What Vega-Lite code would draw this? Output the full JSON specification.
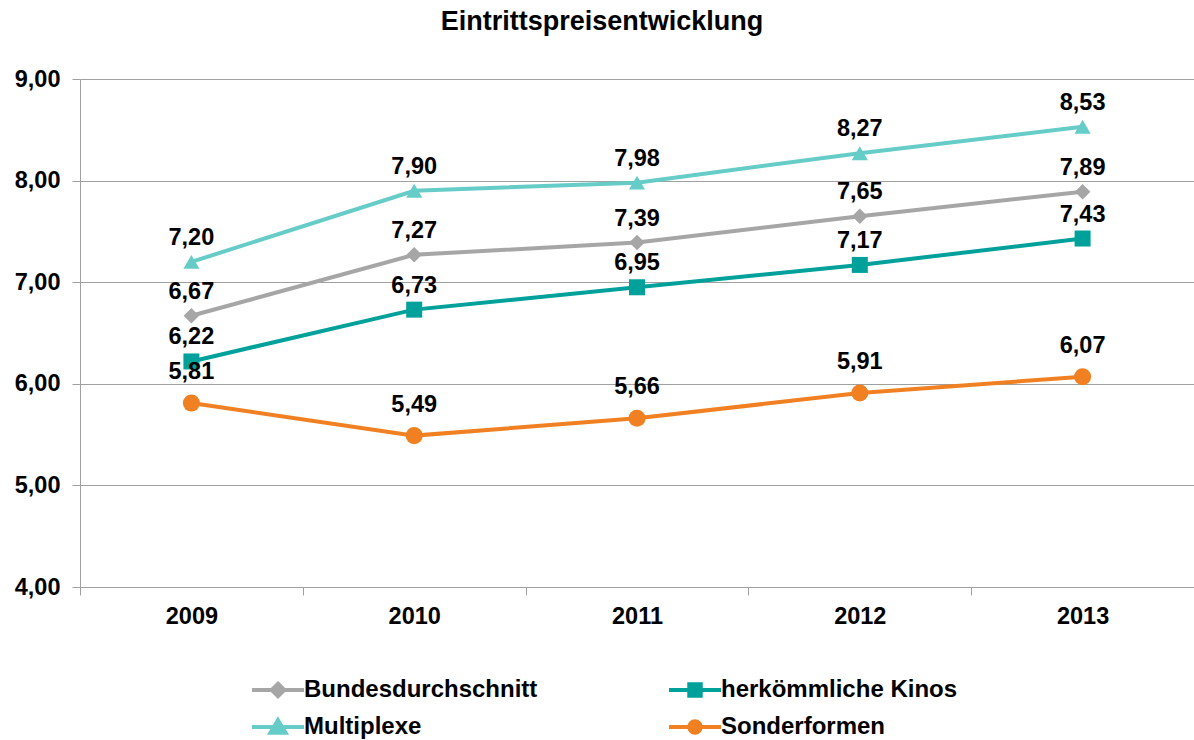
{
  "$schema": "https://vega.github.io/schema/vega-lite/v6.json",
  "width": 1114,
  "height": 508,
  "autosize": {"type": "none"},
  "padding": {"left": 80, "top": 79, "right": 0, "bottom": 153},
  "background": "white",
  "title": {"text": "Eintrittspreisentwicklung", "font": "Liberation Sans", "fontSize": 27, "fontWeight": "bold", "color": "black", "anchor": "middle", "dx": -35, "offset": 31},
  "config": {
    "locale": {"number": {"decimal": ",", "thousands": ".", "grouping": [3], "currency": ["", " €"]}},
    "view": {"stroke": null},
    "font": "Liberation Sans"
  },
  "data": {"values": [
    {"Jahr": "2009", "Serie": "Bundesdurchschnitt", "Preis": 6.67},
    {"Jahr": "2010", "Serie": "Bundesdurchschnitt", "Preis": 7.27},
    {"Jahr": "2011", "Serie": "Bundesdurchschnitt", "Preis": 7.39},
    {"Jahr": "2012", "Serie": "Bundesdurchschnitt", "Preis": 7.65},
    {"Jahr": "2013", "Serie": "Bundesdurchschnitt", "Preis": 7.89},
    {"Jahr": "2009", "Serie": "herkömmliche Kinos", "Preis": 6.22},
    {"Jahr": "2010", "Serie": "herkömmliche Kinos", "Preis": 6.73},
    {"Jahr": "2011", "Serie": "herkömmliche Kinos", "Preis": 6.95},
    {"Jahr": "2012", "Serie": "herkömmliche Kinos", "Preis": 7.17},
    {"Jahr": "2013", "Serie": "herkömmliche Kinos", "Preis": 7.43},
    {"Jahr": "2009", "Serie": "Multiplexe", "Preis": 7.20},
    {"Jahr": "2010", "Serie": "Multiplexe", "Preis": 7.90},
    {"Jahr": "2011", "Serie": "Multiplexe", "Preis": 7.98},
    {"Jahr": "2012", "Serie": "Multiplexe", "Preis": 8.27},
    {"Jahr": "2013", "Serie": "Multiplexe", "Preis": 8.53},
    {"Jahr": "2009", "Serie": "Sonderformen", "Preis": 5.81},
    {"Jahr": "2010", "Serie": "Sonderformen", "Preis": 5.49},
    {"Jahr": "2011", "Serie": "Sonderformen", "Preis": 5.66},
    {"Jahr": "2012", "Serie": "Sonderformen", "Preis": 5.91},
    {"Jahr": "2013", "Serie": "Sonderformen", "Preis": 6.07}
  ]},
  "encoding": {
    "x": {
      "field": "Jahr", "type": "nominal",
      "scale": {"type": "band", "paddingInner": 0, "paddingOuter": 0},
      "axis": {"title": null, "labelAngle": 0, "tickBand": "extent", "tickSize": 8, "tickColor": "#A0A0A0", "domainColor": "#A0A0A0", "labelPadding": 9, "labelFont": "Liberation Sans", "labelFontSize": 23.5, "labelFontWeight": "bold", "labelColor": "black", "grid": false}
    },
    "y": {
      "field": "Preis", "type": "quantitative",
      "scale": {"domain": [4, 9], "nice": false, "zero": false},
      "axis": {"title": null, "values": [4, 5, 6, 7, 8, 9], "format": ".2f", "labelFont": "Liberation Sans", "labelFontSize": 23.5, "labelFontWeight": "bold", "labelColor": "black", "labelPadding": 12, "tickSize": 8, "tickColor": "#A0A0A0", "domainColor": "#A0A0A0", "gridColor": "#A0A0A0", "grid": true}
    },
    "color": {
      "field": "Serie", "type": "nominal",
      "scale": {"domain": ["Bundesdurchschnitt", "Multiplexe", "herkömmliche Kinos", "Sonderformen"], "range": ["#A6A6A6", "#66CCC8", "#00A19B", "#F08021"]},
      "legend": {
        "orient": "none", "legendX": 170, "legendY": 594, "columns": 2, "columnPadding": 129, "rowPadding": 3,
        "symbolSize": 2704, "clipHeight": 34, "title": null, "labelLimit": 0, "symbolStrokeWidth": 4,
        "labelFont": "Liberation Sans", "labelFontSize": 24, "labelFontWeight": "bold", "labelColor": "black", "labelOffset": -2,
        "encode": {"symbols": {"update": {
          "shape": {"signal": "datum.value === 'Bundesdurchschnitt' ? 'M-1,0H1M0,-0.24L0.24,0L0,0.24L-0.24,0Z' : datum.value === 'herkömmliche Kinos' ? 'M-1,0H1M-0.22,-0.22H0.22V0.22H-0.22Z' : datum.value === 'Multiplexe' ? 'M-1,0H1M0,-0.26L0.29,0.22H-0.29Z' : 'M-1,0H1M0.22,0A0.22,0.22,0,1,1,-0.22,0A0.22,0.22,0,1,1,0.22,0Z'"},
          "strokeWidth": {"value": 4},
          "stroke": {"signal": "scale('color', datum.value)"},
          "fill": {"signal": "scale('color', datum.value)"},
          "opacity": {"value": 1}
        }}}
      }
    }
  },
  "layer": [
    {"mark": {"type": "line", "strokeWidth": 4}},
    {"transform": [{"filter": "datum.Serie === 'Sonderformen'"}], "mark": {"type": "point", "filled": true, "opacity": 1, "size": 290, "shape": "circle"}},
    {"transform": [{"filter": "datum.Serie === 'Bundesdurchschnitt'"}], "mark": {"type": "point", "filled": true, "opacity": 1, "size": 240, "shape": "diamond"}},
    {"transform": [{"filter": "datum.Serie === 'herkömmliche Kinos'"}], "mark": {"type": "point", "filled": true, "opacity": 1, "size": 256, "shape": "square"}},
    {"transform": [{"filter": "datum.Serie === 'Multiplexe'"}], "mark": {"type": "point", "filled": true, "opacity": 1, "size": 260, "shape": "triangle-up"}},
    {
      "transform": [{"filter": "datum.Serie !== 'Sonderformen'"}],
      "mark": {"type": "text", "dy": -24, "fontSize": 23.5, "fontWeight": "bold", "font": "Liberation Sans", "color": "black"},
      "encoding": {"text": {"field": "Preis", "type": "quantitative", "format": ".2f"}, "color": {"value": "black"}}
    },
    {
      "transform": [{"filter": "datum.Serie === 'Sonderformen'"}],
      "mark": {"type": "text", "dy": -31, "fontSize": 23.5, "fontWeight": "bold", "font": "Liberation Sans", "color": "black"},
      "encoding": {"text": {"field": "Preis", "type": "quantitative", "format": ".2f"}, "color": {"value": "black"}}
    }
  ]
}
